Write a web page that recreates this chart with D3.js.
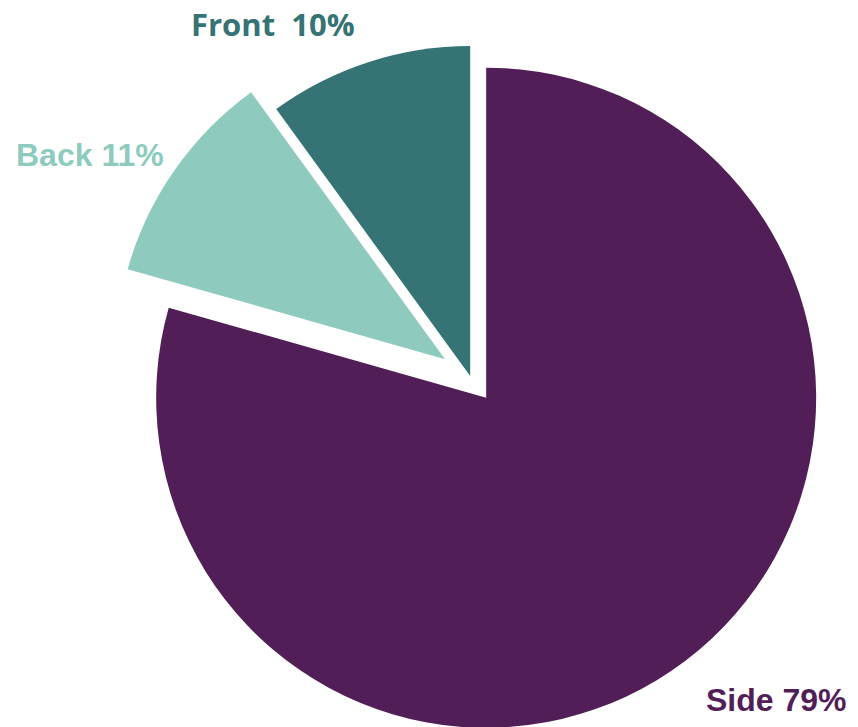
<!DOCTYPE html>
<html>
<head>
<meta charset="utf-8">
<script src="https://cdn.jsdelivr.net/npm/d3@7"></script>
<style>
  html, body { margin: 0; padding: 0; background: #fff; }
  svg { display: block; }
</style>
</head>
<body>
<svg width="858" height="727"></svg>
<script>
// data
var categories = ["Side", "Back", "Front"];
var shares = [79.4, 10.6, 10.0];
var labels = ["Side 79%", "Back 11%", "Front\u00a0\u00a010%"];

var colors = ["#521e57", "#8ecbbe", "#357375"];
var explode = [26, 31, 1];

var svg = d3.select("svg"),
  width = +svg.attr("width"),
  height = +svg.attr("height");

var cx = 470.5,
  cy = 377,
  radius = 330;

var pie = d3.pie().sort(null).value(function (d) { return d; });
var arc = d3.arc().innerRadius(0).outerRadius(radius);

var slices = pie(shares);

var g = svg.append("g").attr("transform", "translate(" + cx + "," + cy + ")");

g.selectAll("path")
  .data(slices)
  .enter()
  .append("path")
  .attr("d", arc)
  .attr("fill", function (d, i) { return colors[i]; })
  .attr("transform", function (d, i) {
    var a = (d.startAngle + d.endAngle) / 2;
    return "translate(" + Math.sin(a) * explode[i] + "," + -Math.cos(a) * explode[i] + ")";
  });

// label placement (left x, baseline y), Excel-style manual positions
var labelPos = [[706, 711], [16, 166], [191, 36]];
var labelFont = ["'Liberation Sans', Arial, sans-serif", "'Liberation Sans', Arial, sans-serif", "'Open Sans', sans-serif"];
var labelSize = [32, 32, 31];

svg.selectAll("text.lbl")
  .data(labels)
  .enter()
  .append("text")
  .attr("class", "lbl")
  .attr("x", function (d, i) { return labelPos[i][0]; })
  .attr("y", function (d, i) { return labelPos[i][1]; })
  .attr("fill", function (d, i) { return colors[i]; })
  .style("font-family", function (d, i) { return labelFont[i]; })
  .style("font-size", function (d, i) { return labelSize[i] + "px"; })
  .style("font-weight", "bold")
  .text(function (d) { return d; });
</script>
</body>
</html>
